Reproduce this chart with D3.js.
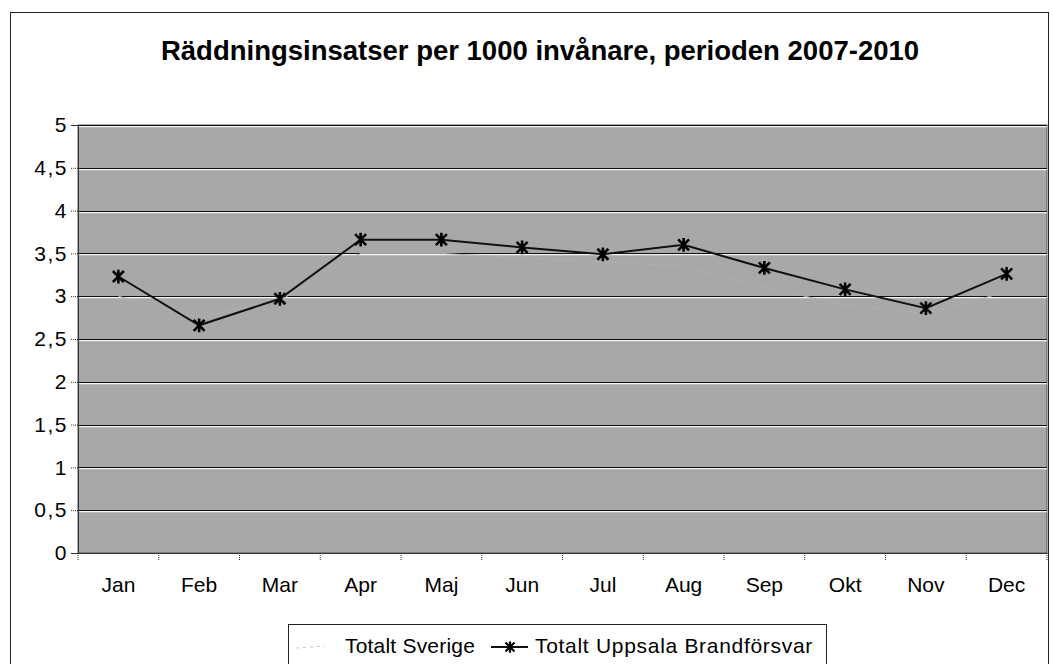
<!DOCTYPE html>
<html><head><meta charset="utf-8">
<script src="https://cdn.jsdelivr.net/npm/d3@7"></script>
<style>body{margin:0;background:#fff;} svg{display:block;font-family:"Liberation Sans",Arial,sans-serif;}</style>
</head><body><svg id="c" width="1053" height="664"></svg>
<script>
const months = ["Jan","Feb","Mar","Apr","Maj","Jun","Jul","Aug","Sep","Okt","Nov","Dec"];
const uppsala = [3.23,2.66,2.97,3.66,3.66,3.57,3.49,3.60,3.33,3.08,2.86,3.26];
// Series barely visible in the reference (light grey on grey); estimated
const sverige = [3.0,2.75,2.95,3.5,3.5,3.45,3.4,3.35,3.1,2.9,2.8,3.05];
const yTicks = [0,0.5,1,1.5,2,2.5,3,3.5,4,4.5,5];
const seriesNames = ["Totalt Sverige","Totalt Uppsala Brandförsvar"];
const title = "Räddningsinsatser per 1000 invånare, perioden 2007-2010";

const FONT = "Liberation Sans, Arial, sans-serif";
const svg = d3.select("#c");
const L = 78, R = 1047, T = 125, B = 553;

// outer chart border
svg.append("rect").attr("x",10.5).attr("y",12.5).attr("width",1038).attr("height",670)
  .attr("fill","#fff").attr("stroke","#222").attr("stroke-width",1);

svg.append("text").attr("x",540).attr("y",60).attr("text-anchor","middle")
  .attr("font-size",27.5).attr("font-weight","bold").text(title);

const x = d3.scaleBand().domain(months).range([L,R]);
const y = d3.scaleLinear().domain([0,5]).range([B,T]);

// plot area
svg.append("rect").attr("x",L).attr("y",T).attr("width",R-L).attr("height",B-T)
  .attr("fill","#a8a8a8").attr("stroke","#555");

// gridlines
const g = svg.append("g");
g.selectAll("line.w").data(yTicks.slice(1)).join("line")
  .attr("x1",L).attr("x2",R).attr("y1",d=>Math.round(y(d))+1.5).attr("y2",d=>Math.round(y(d))+1.5)
  .attr("stroke","#f2f2f2").attr("stroke-width",1.5);
g.selectAll("line.b").data(yTicks.slice(1)).join("line")
  .attr("x1",L).attr("x2",R).attr("y1",d=>Math.round(y(d))+0.5).attr("y2",d=>Math.round(y(d))+0.5)
  .attr("stroke","#111").attr("stroke-width",1);

// y axis
const ya = svg.append("g").attr("transform",`translate(${L},0)`)
  .call(d3.axisLeft(y).tickValues(yTicks).tickSize(7).tickPadding(3)
    .tickFormat(d=>String(d).replace(".",",")));
ya.select(".domain").attr("stroke","#333");
ya.selectAll(".tick line").attr("stroke","#333").attr("stroke-dasharray","1,1");
ya.selectAll("text").attr("font-size",21).attr("letter-spacing","1.5px").attr("fill","#000").attr("font-family",FONT);

// x axis
const xa = svg.append("g").attr("transform",`translate(0,${B})`)
  .call(d3.axisBottom(x).tickSize(0).tickPadding(0));
xa.select(".domain").attr("stroke","#333");
xa.selectAll("text").attr("dy",null).attr("y",39).attr("font-size",21).attr("fill","#000").attr("font-family",FONT);
const bounds = months.map(m=>x(m)).concat([R]);
xa.selectAll("line.bt").data(bounds).join("line")
  .attr("x1",d=>d).attr("x2",d=>d).attr("y1",0).attr("y2",7)
  .attr("stroke","#333").attr("stroke-dasharray","1,1");

const cx = m => x(m)+x.bandwidth()/2;
const line = d3.line().x((d,i)=>cx(months[i])).y(d=>y(d));

// Sverige (very faint)
svg.append("path").datum(sverige).attr("d",line).attr("fill","none")
  .attr("stroke","#afafaf").attr("stroke-width",1);

// Uppsala
svg.append("path").datum(uppsala).attr("d",line).attr("fill","none")
  .attr("stroke","#111").attr("stroke-width",2);

const starPath = s => `M${-s},${-s}L${s},${s}M${-s},${s}L${s},${-s}M0,${-s*1.25}L0,${s*1.25}`;
svg.selectAll("path.mk").data(uppsala).join("path")
  .attr("transform",(d,i)=>`translate(${cx(months[i])},${y(d)})`)
  .attr("d",starPath(5.5)).attr("stroke","#000").attr("stroke-width",2.6).attr("fill","none");

// legend
const lg = svg.append("g");
lg.append("rect").attr("x",288.5).attr("y",624.5).attr("width",538).attr("height",40)
  .attr("fill","#fff").attr("stroke","#222");
lg.append("line").attr("x1",296).attr("x2",325).attr("y1",648).attr("y2",646)
  .attr("stroke","#c4c4c4").attr("stroke-dasharray","3,4");
lg.append("text").attr("x",345).attr("y",653).attr("font-size",21).attr("letter-spacing","0.2px").text(seriesNames[0]);
lg.append("line").attr("x1",491).attr("x2",528).attr("y1",647).attr("y2",647)
  .attr("stroke","#111").attr("stroke-width",2);
lg.append("path").attr("transform","translate(510,647)").attr("d",starPath(4.5))
  .attr("stroke","#000").attr("stroke-width",2.2).attr("fill","none");
lg.append("text").attr("x",535).attr("y",653).attr("font-size",21).attr("letter-spacing","0.7px").text(seriesNames[1]);
</script></body></html>
